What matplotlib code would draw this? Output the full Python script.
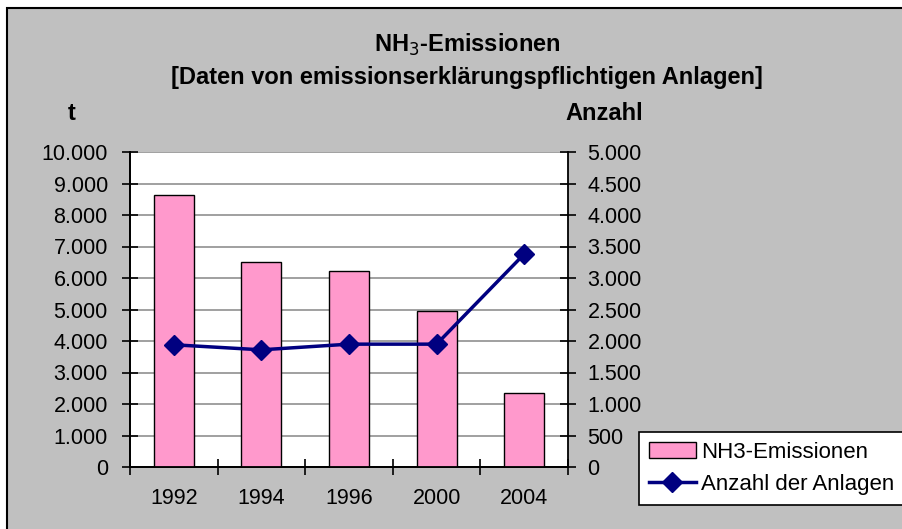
import numpy as np
import matplotlib.pyplot as plt
from matplotlib.patches import Rectangle
from matplotlib.ticker import FuncFormatter, FixedLocator

# data
years = ["1992", "1994", "1996", "2000", "2004"]
emissions_t = [8650, 6510, 6230, 4960, 2340]
anlagen = [1940, 1860, 1950, 1950, 3380]

bar_color = "#FF99CC"
line_color = "#000080"
bg_color = "#C0C0C0"


def german_thousands(v, pos=None):
    return f"{int(round(v)):,}".replace(",", ".")


plt.rcParams["font.family"] = ["Liberation Sans", "DejaVu Sans"]

fig = plt.figure(figsize=(9.02, 5.29), dpi=100, facecolor="white")

# grey chart area with black frame (cut off at right/bottom as in the picture)
frame = Rectangle((7 / 902, -0.05), 1.2, 1 - 8 / 529 + 0.05,
                  transform=fig.transFigure, facecolor=bg_color,
                  edgecolor="black", linewidth=1.5, zorder=-10)
fig.patches.append(frame)

ax = fig.add_axes([130 / 902, 1 - 467 / 529, 438 / 902, 315 / 529])
ax.set_facecolor("white")
ax2 = ax.twinx()

x = np.arange(len(years))
ax.bar(x, emissions_t, width=0.455, color=bar_color, edgecolor="black",
       linewidth=1, zorder=3, label="NH3-Emissionen")
ax.set_ylim(0, 10000)
ax.set_xlim(-0.5, len(years) - 0.5)
ax.set_yticks(np.arange(0, 10001, 1000))
ax.yaxis.set_major_formatter(FuncFormatter(german_thousands))
ax.grid(axis="y", color="#999999", linewidth=1.3, zorder=0)
ax.set_axisbelow(True)

# category ticks between the bars, labels centred on the bars
ax.xaxis.set_major_locator(FixedLocator(np.arange(-0.5, len(years), 1.0)))
ax.set_xticklabels([])
ax.xaxis.set_minor_locator(FixedLocator(x))
ax.set_xticklabels(years, minor=True)
ax.tick_params(axis="x", which="minor", length=0, pad=15, labelsize=15.5)
ax.tick_params(axis="x", which="major", direction="inout", length=12, width=1.2)
ax.tick_params(axis="y", direction="inout", length=12, width=1.2,
               labelsize=15.5, pad=10)

ax2.plot(x, anlagen, color=line_color, linewidth=2.5, marker="D",
         markersize=10, zorder=4, label="Anzahl der Anlagen")
ax2.set_ylim(0, 5000)
ax2.set_yticks(np.arange(0, 5001, 500))
ax2.yaxis.set_major_formatter(FuncFormatter(german_thousands))
ax2.tick_params(axis="y", direction="inout", length=12, width=1.2,
                labelsize=15.5, pad=8)

for a in (ax, ax2):
    a.spines["top"].set_visible(False)
    for s in ("left", "right", "bottom"):
        a.spines[s].set_linewidth(1.3)
        a.spines[s].set_color("black")
ax.spines["right"].set_visible(False)

# titles
title_font = ["Liberation Sans Narrow", "Liberation Sans", "DejaVu Sans"]
fig.text(467 / 902, 1 - 45 / 529, r"NH$_3$-Emissionen", ha="center",
         va="center", fontsize=17, fontweight="bold", family=title_font)
fig.text(467 / 902, 1 - 77 / 529,
         "[Daten von emissionserklärungspflichtigen Anlagen]", ha="center",
         va="center", fontsize=17, fontweight="bold", family=title_font)
fig.text(72 / 902, 1 - 113 / 529, "t", ha="center", va="center",
         fontsize=17, fontweight="bold", family=title_font)
fig.text(604 / 902, 1 - 113 / 529, "Anzahl", ha="center", va="center",
         fontsize=17, fontweight="bold", family=title_font)

h1, l1 = ax.get_legend_handles_labels()
h2, l2 = ax2.get_legend_handles_labels()
leg = fig.legend(h1 + h2, l1 + l2, loc="upper left",
                 bbox_to_anchor=(639 / 902, 1 - 432 / 529), fontsize=16,
                 frameon=True, fancybox=False, framealpha=1,
                 edgecolor="black", facecolor="white", borderpad=0.45,
                 borderaxespad=0, handlelength=2.1, handletextpad=0.25,
                 labelspacing=0.5)
leg.get_frame().set_linewidth(1.2)

fig.savefig("out.png", dpi=100, facecolor=fig.get_facecolor())
